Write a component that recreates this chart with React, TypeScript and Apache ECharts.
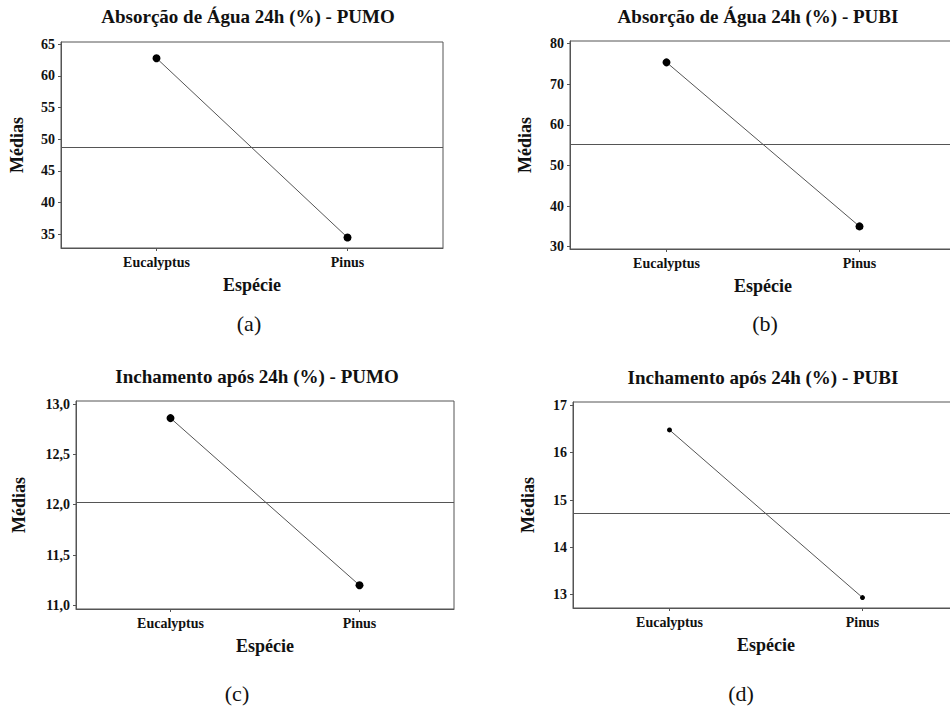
import React, { useEffect, useRef } from "react";
import * as echarts from "echarts";

const categories = ["Eucalyptus", "Pinus"];
const panelTitles = [
  "Absorção de Água 24h (%) - PUMO",
  "Absorção de Água 24h (%) - PUBI",
  "Inchamento após 24h (%) - PUMO",
  "Inchamento após 24h (%) - PUBI",
];
const captions = ["(a)", "(b)", "(c)", "(d)"];
const valuesA = [62.8, 34.5];
const valuesB = [75.4, 35.0];
const valuesC = [12.86, 11.2];
const valuesD = [16.48, 12.94];
const overallMeans = [48.7, 55.2, 12.02, 14.72];
const ticksA = [35, 40, 45, 50, 55, 60, 65];
const ticksB = [30, 40, 50, 60, 70, 80];
const ticksC = [11, 11.5, 12, 12.5, 13];
const ticksD = [13, 14, 15, 16, 17];
const yExtents = [
  [32.84, 65.36],
  [29.43, 80.66],
  [10.964, 13.03],
  [12.72, 17.07],
];
const yAxisName = "Médias";
const xAxisName = "Espécie";

const FONT = "Liberation Serif";
const LINE = "#555";
const TEXT = "#111";

export default function App() {
  const ref = useRef<HTMLDivElement>(null);
  useEffect(() => {
    if (!ref.current) return;
    const chart = echarts.init(ref.current, undefined, { renderer: "svg" });
    const allValues = [valuesA, valuesB, valuesC, valuesD];
    const allTicks = [ticksA, ticksB, ticksC, ticksD];
    const grids = [
      { left: 61, top: 42, width: 382, height: 206 },
      { left: 570, top: 41, width: 386, height: 208 },
      { left: 76, top: 401, width: 378, height: 208 },
      { left: 573, top: 402, width: 386, height: 206 },
    ];
    const yNameGaps = [35, 36, 48, 36];
    const symbolSizes = [8, 8, 8, 5];
    const titlePos = [
      [248, 7],
      [758, 7],
      [257, 367],
      [763, 368],
    ];
    const captionPos = [
      [249, 323],
      [765, 323],
      [237, 693],
      [741, 693],
    ];
    const fmt = (i: number) => (v: number) =>
      i === 2 ? v.toFixed(1).replace(".", ",") : String(v);

    const boldText = (size: number) => ({
      fontFamily: FONT,
      fontWeight: "bold",
      fontSize: size,
      color: TEXT,
    });

    const option: any = {
      animation: false,
      backgroundColor: "#fff",
      textStyle: { fontFamily: FONT },
      title: panelTitles.map((t, i) => ({
        text: t,
        left: titlePos[i][0],
        top: titlePos[i][1],
        textAlign: "center",
        padding: 0,
        textStyle: boldText(19),
      })),
      grid: grids.map((g) => ({
        ...g,
        show: true,
        borderColor: LINE,
        borderWidth: 1,
        backgroundColor: "transparent",
        containLabel: false,
      })),
      xAxis: grids.map((_, i) => ({
        type: "category",
        gridIndex: i,
        data: categories,
        boundaryGap: true,
        name: xAxisName,
        nameLocation: "middle",
        nameGap: 28,
        nameTextStyle: boldText(18),
        axisLine: { show: true, lineStyle: { color: LINE, width: 1 } },
        axisTick: {
          show: true,
          alignWithLabel: true,
          length: 3,
          lineStyle: { color: LINE },
        },
        axisLabel: { ...boldText(14), margin: 7 },
        splitLine: { show: false },
      })),
      yAxis: grids.map((_, i) => ({
        type: "value",
        gridIndex: i,
        min: yExtents[i][0],
        max: yExtents[i][1],
        name: yAxisName,
        nameLocation: "middle",
        nameGap: yNameGaps[i],
        nameTextStyle: boldText(18),
        axisLine: { show: true, lineStyle: { color: LINE, width: 1 } },
        axisTick: {
          show: true,
          length: 3,
          customValues: allTicks[i],
          lineStyle: { color: LINE },
        },
        axisLabel: {
          ...boldText(14),
          margin: 6,
          customValues: allTicks[i],
          formatter: fmt(i),
        },
        splitLine: { show: false },
      })),
      series: allValues.map((vals, i) => ({
        type: "line",
        xAxisIndex: i,
        yAxisIndex: i,
        data: vals,
        symbol: "circle",
        symbolSize: symbolSizes[i],
        showSymbol: true,
        itemStyle: { color: "#000" },
        lineStyle: { color: LINE, width: 1 },
        markLine: {
          silent: true,
          symbol: ["none", "none"],
          label: { show: false },
          lineStyle: { color: LINE, width: 1, type: "solid" },
          data: [{ yAxis: overallMeans[i] }],
        },
      })),
      graphic: captions.map((c, i) => ({
        type: "text",
        x: captionPos[i][0],
        y: captionPos[i][1],
        style: {
          text: c,
          fontFamily: FONT,
          fontSize: 22,
          fill: TEXT,
          align: "center",
          verticalAlign: "middle",
        },
      })),
    };
    chart.setOption(option);
    return () => chart.dispose();
  }, []);
  return (
    <div
      style={{
        position: "absolute",
        left: 0,
        top: 0,
        width: 950,
        height: 710,
        overflow: "hidden",
      }}
    >
      <div ref={ref} style={{ width: 970, height: 710 }} />
    </div>
  );
}
